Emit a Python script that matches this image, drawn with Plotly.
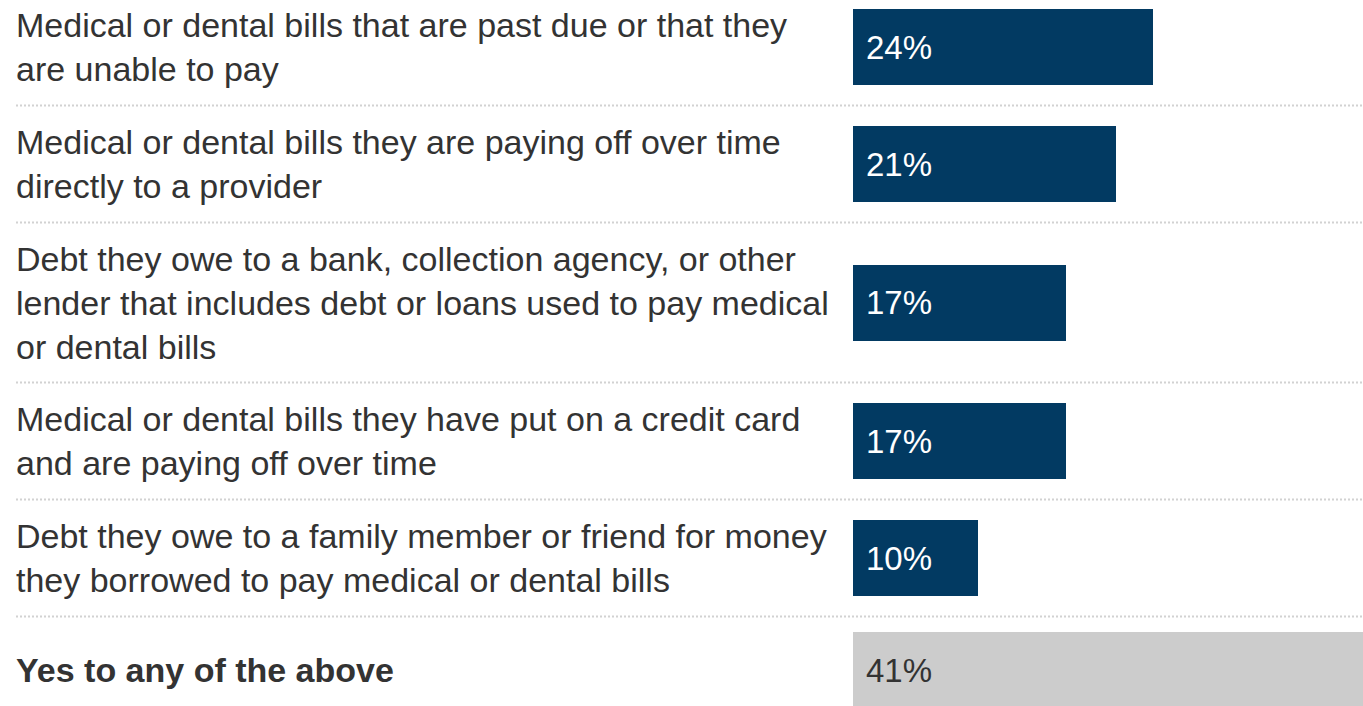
import plotly.graph_objects as go

categories = [
    "Medical or dental bills that are past due or that they<br>are unable to pay",
    "Medical or dental bills they are paying off over time<br>directly to a provider",
    "Debt they owe to a bank, collection agency, or other<br>lender that includes debt or loans used to pay medical<br>or dental bills",
    "Medical or dental bills they have put on a credit card<br>and are paying off over time",
    "Debt they owe to a family member or friend for money<br>they borrowed to pay medical or dental bills",
    "<b>Yes to any of the above</b>",
]
values = [24, 21, 17, 17, 10, 41]
value_labels = ["24%", "21%", "17%", "17%", "10%", "41%"]
is_total = [False, False, False, False, False, True]

# layout constants (pixels)
W, H = 1363, 706
FONT = "Liberation Sans, Arial, sans-serif"
FS = 34
LINE_H = 43
BAR_H = 76
PAD = 31
TOP = 11.5
X0_PX = 853
PX_PER_PCT = 12.5

NAVY = "#023a62"
GRAY = "#cccccc"
TEXT = "#333333"

# row geometry derived from number of text lines
lines = [c.count("<br>") + 1 for c in categories]
row_h = [max(n * LINE_H, BAR_H) + PAD for n in lines]
tops, centers = [], []
acc = 0.0
for h in row_h:
    tops.append(acc)
    centers.append(acc + h / 2)
    acc += h

colors = [GRAY if t else NAVY for t in is_total]

fig = go.Figure()
fig.add_trace(go.Bar(
    x=values, y=centers, orientation="h", width=BAR_H,
    marker=dict(color=colors, line=dict(width=0)),
    hoverinfo="skip", showlegend=False,
))

annotations = []
for cat, cy in zip(categories, centers):
    annotations.append(dict(
        x=14 / W, xref="paper", y=cy, yref="y", text=cat,
        xanchor="left", yanchor="middle", align="left", showarrow=False,
        font=dict(family=FONT, size=FS, color=TEXT),
    ))
for lab, cy, t in zip(value_labels, centers, is_total):
    annotations.append(dict(
        x=0, xref="x", y=cy, yref="y", text=lab, xshift=11,
        xanchor="left", yanchor="middle", showarrow=False,
        font=dict(family=FONT, size=FS - 1, color=TEXT if t else "white"),
    ))

shapes = []
for t in tops[1:]:
    shapes.append(dict(
        type="line", xref="paper", x0=16 / W, x1=1, yref="y", y0=t, y1=t,
        line=dict(color="#d2d2d2", width=2, dash="2px,2px"), layer="below",
    ))

fig.update_layout(
    width=W, height=H,
    margin=dict(l=0, r=0, t=0, b=0),
    paper_bgcolor="white", plot_bgcolor="white",
    xaxis=dict(domain=[X0_PX / W, 1], range=[0, (W - X0_PX) / PX_PER_PCT],
               visible=False, fixedrange=True),
    yaxis=dict(range=[TOP + H, TOP], visible=False, fixedrange=True),
    annotations=annotations, shapes=shapes, bargap=0,
)

fig.write_html(
    "out.html",
    config={"displayModeBar": False},
    post_script="document.body.style.margin='0';document.body.style.overflow='hidden';",
)
